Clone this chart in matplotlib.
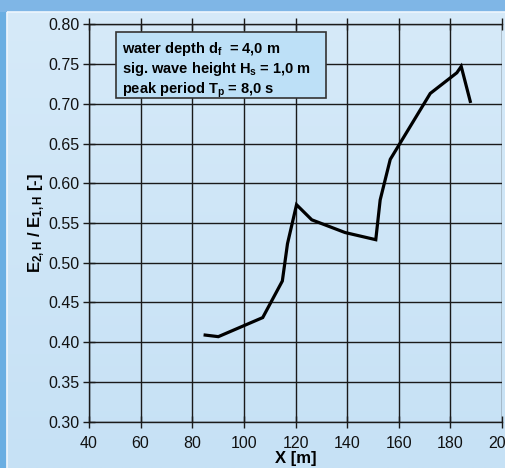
import numpy as np
import matplotlib
matplotlib.use("Agg")
import matplotlib.pyplot as plt
from matplotlib.patches import Rectangle
from matplotlib.colors import LinearSegmentedColormap

plt.rcParams['font.family'] = ['Liberation Sans', 'DejaVu Sans']
plt.rcParams['mathtext.fontset'] = 'custom'
plt.rcParams['mathtext.rm'] = 'Liberation Sans'
plt.rcParams['mathtext.bf'] = 'Liberation Sans:bold'
plt.rcParams['mathtext.it'] = 'Liberation Sans:bold'

# Data
x_m = [85.0, 90.1, 107.3, 114.9, 116.9, 120.4, 126.3, 139.2, 151.1, 152.8, 156.7, 172.2, 182.5, 184.2, 187.7]
ratio = [0.409, 0.407, 0.431, 0.477, 0.524, 0.573, 0.554, 0.538, 0.529, 0.579, 0.630, 0.713, 0.739, 0.747, 0.703]
x_ticks = [40, 60, 80, 100, 120, 140, 160, 180, 200]
y_ticks = [0.30, 0.35, 0.40, 0.45, 0.50, 0.55, 0.60, 0.65, 0.70, 0.75, 0.80]
info_lines = [r"water depth d$_\mathbf{f}$  = 4,0 m",
              r"sig. wave height H$_\mathbf{s}$ = 1,0 m",
              r"peak period T$_\mathbf{p}$ = 8,0 s"]

W, H = 506, 468
fig = plt.figure(figsize=(W / 100, H / 100), dpi=100)
fig.patch.set_facecolor('#7fb6e6')

# panel background with gradient
bg = fig.add_axes([0, 0, 1, 1], zorder=0)
bg.set_xlim(0, W)
bg.set_ylim(H, 0)
bg.axis('off')
grad = np.linspace(0, 1, 256).reshape(-1, 1)
cmap = LinearSegmentedColormap.from_list('p', ['#d6eaf9', '#c6e1f5'])
bg.imshow(grad, cmap=cmap, extent=[7, W, H, 12], aspect='auto')
bg.add_patch(Rectangle((7, 12), W, H, facecolor='none', edgecolor='#eef6fd', lw=1.2))
bg.add_patch(Rectangle((0, 12), 6.5, H, facecolor='#6aaee2', edgecolor='none'))

ax = fig.add_axes([89 / W, 1 - 421.7 / H, (502 - 89) / W, (421.7 - 24.3) / H], zorder=1)
ax.patch.set_alpha(0)
ax.plot(x_m, ratio, color='black', lw=2.3, zorder=3, solid_joinstyle='miter')
ax.set_xlim(40, 200)
ax.set_ylim(0.30, 0.80)
ax.set_xticks(x_ticks)
ax.set_yticks(y_ticks)
ax.set_yticklabels([f"{v:.2f}" for v in y_ticks])
ax.grid(True, color='#1a1a1a', lw=1.0)
for s in ax.spines.values():
    s.set_color('#1a1a1a')
    s.set_linewidth(1.0)
ax.spines['right'].set_visible(False)
ax.tick_params(direction='inout', length=8, width=1, labelsize=11.5, colors='#1a1a1a',
               top=True, labelcolor='#111111', pad=3)
ax.tick_params(axis='x', pad=6)
ax.set_xlabel('X [m]', fontsize=12, fontweight='bold', labelpad=0)
ax.set_ylabel(r'E$_\mathbf{2,H}$ / E$_\mathbf{1,H}$ [-]', fontsize=12, fontweight='bold', labelpad=1)

# info box on top overlay
top = fig.add_axes([0, 0, 1, 1], zorder=5)
top.set_xlim(0, W)
top.set_ylim(H, 0)
top.axis('off')
top.add_patch(Rectangle((115.7, 32.3), 210, 66, facecolor='#bde0f7', edgecolor='#333333', lw=1.2))
for i, t in enumerate(info_lines):
    top.text(122, 52.5 + i * 20.5, t, fontsize=10.5, fontweight='bold', ha='left', va='baseline')

fig.savefig('out.png', dpi=100)
